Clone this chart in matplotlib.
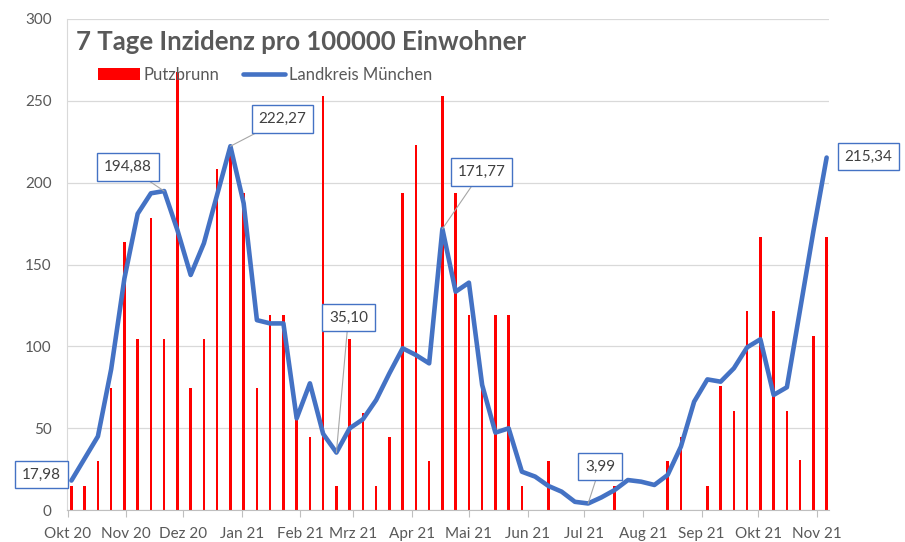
import matplotlib
matplotlib.use("Agg")
import matplotlib.pyplot as plt
import pandas as pd

plt.rcParams['font.family'] = ['Lato', 'DejaVu Sans']

# weekly values (Saturdays)
weeks = pd.date_range('2020-10-03', '2021-11-06', freq='7D')

putzbrunn = [14.9, 14.9, 29.8, 74.4, 163.7, 104.2, 178.6, 104.2, 267.9, 74.4,
             104.2, 208.3, 223.2, 193.5, 74.4, 119.0, 119.0, 59.5, 44.7, 253.0,
             14.9, 104.2, 59.5, 14.9, 44.7, 193.5, 223.2, 29.8, 253.0, 193.5,
             119.0, 74.4, 119.0, 119.0, 14.9, 0, 29.8, 0, 0, 0,
             0, 14.9, 0, 0, 0, 29.8, 44.7, 0, 14.9, 75.9,
             60.7, 121.4, 167.0, 121.4, 60.7, 30.4, 106.3, 167.0]

landkreis = [17.98, 31.5, 45.0, 86.0, 141.5, 181.0, 193.5, 194.88, 171.0, 143.6,
             163.0, 192.7, 222.27, 187.4, 116.0, 114.0, 114.0, 56.0, 77.4, 46.5,
             35.10, 49.9, 55.4, 67.2, 83.5, 98.8, 94.7, 89.6, 171.77, 133.4,
             138.9, 76.4, 47.3, 49.9, 23.4, 20.4, 14.7, 11.2, 5.0, 3.99,
             7.7, 12.2, 18.3, 17.3, 15.3, 21.4, 38.7, 66.2, 79.8, 78.4,
             86.6, 99.4, 104.3, 70.3, 75.0, 122.6, 170.3, 215.34]

month_ticks = pd.date_range('2020-10-01', '2021-11-01', freq='MS')
month_labels = ['Okt 20', 'Nov 20', 'Dez 20', 'Jan 21', 'Feb 21', 'Mrz 21', 'Apr 21',
                'Mai 21', 'Jun 21', 'Jul 21', 'Aug 21', 'Sep 21', 'Okt 21', 'Nov 21']

# which line points get a data label, and where the box sits (pixel offset)
label_idx = [0, 7, 12, 20, 28, 39, 57]
label_off = [(-30, 6), (-36, 24), (52, 27), (12, 135), (39, 57), (12, 37), (42, 1)]
label_leader = [False, True, True, True, True, True, False]

fig = plt.figure(figsize=(9.05, 5.42), dpi=100)
ax = fig.add_axes([67 / 905, 32 / 542, (829 - 67) / 905, (510 - 19) / 542])

bars = ax.bar(weeks, putzbrunn, width=1.3, color='#FF0000', label='Putzbrunn', zorder=2)
line, = ax.plot(weeks, landkreis, color='#4472C4', lw=3.3, solid_joinstyle='round',
                solid_capstyle='round', label='Landkreis München', zorder=3)

ax.set_ylim(0, 300)
ax.set_yticks(range(0, 301, 50))
ax.set_xlim(pd.Timestamp('2020-09-30 16:00'), pd.Timestamp('2021-11-07 06:00'))
ax.set_xticks(month_ticks)
ax.set_xticklabels(month_labels)

ax.grid(axis='y', color='#d9d9d9', lw=0.9)
ax.set_axisbelow(True)
for s in ['top', 'right']:
    ax.spines[s].set_visible(False)
ax.spines['left'].set_color('#d9d9d9')
ax.spines['bottom'].set_color('#bfbfbf')
ax.tick_params(axis='x', length=5, color='#bfbfbf', labelcolor='#595959',
               labelsize=11, pad=7)
ax.tick_params(axis='y', length=0, pad=11, labelcolor='#595959', labelsize=11)

for i, (dx, dy), lead in zip(label_idx, label_off, label_leader):
    txt = '%.2f' % landkreis[i]
    ax.annotate(txt.replace('.', ','), xy=(weeks[i], landkreis[i]),
                xytext=(dx * 0.72, dy * 0.72), textcoords='offset points',
                ha='center', va='center', fontsize=11, color='#404040', zorder=5,
                bbox=dict(boxstyle='square,pad=0.45', fc='white', ec='#4472C4', lw=1),
                arrowprops=dict(arrowstyle='-', color='#a6a6a6', lw=0.8,
                                shrinkA=0, shrinkB=0) if lead else None)

fig.text(76 / 905, 1 - 50 / 542, '7 Tage Inzidenz pro 100000 Einwohner',
         fontsize=18.5, fontweight='bold', color='#595959', va='baseline')

fig.legend(handles=[bars, line], loc='center left', bbox_to_anchor=(98 / 905, 1 - 75 / 542),
           ncol=2, frameon=False, fontsize=12, labelcolor='#595959',
           borderpad=0, borderaxespad=0, handlelength=2.5, handletextpad=0.25,
           columnspacing=1.4)

fig.savefig('out.png', dpi=100, facecolor='white')
